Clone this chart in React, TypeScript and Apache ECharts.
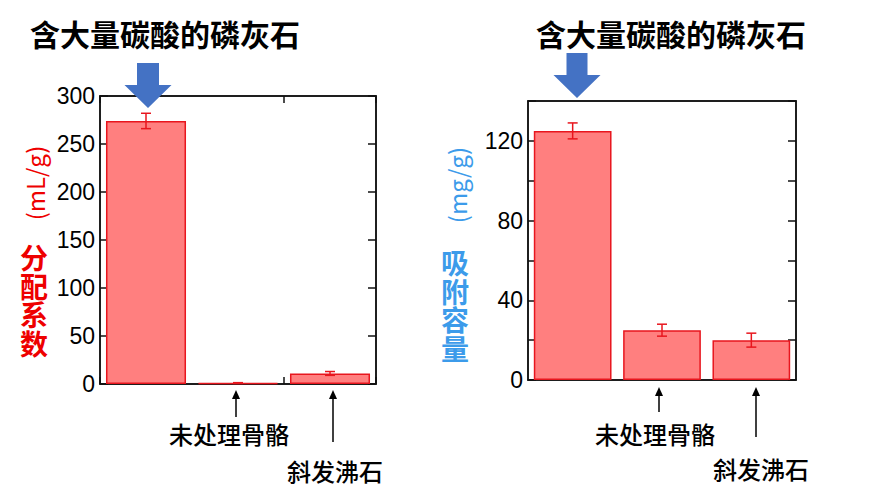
import React, { useEffect, useRef } from "react";
import * as echarts from "echarts";

const categories = ["含大量碳酸的磷灰石", "未处理骨骼", "斜发沸石"];
const partitionValues = [274, 1, 11];
const partitionErrors = [8, 0.4, 2];
const capacityValues = [125, 25, 20];
const capacityErrors = [4, 3, 3.5];
const partitionTicks = [0, 50, 100, 150, 200, 250, 300];
const capacityTicks = [0, 40, 80, 120];
const leftAxisName = ["分配系数", "(mL/g)"];
const rightAxisName = ["吸附容量", "(mg/g)"];

const NUM_FONT = '"Liberation Sans", Arial, sans-serif';
const CJK_FONT = '"Noto Sans CJK SC", "Noto Sans", sans-serif';
const BAR_FILL = "#FF7F7F";
const BAR_EDGE = "#E8161E";
const AXIS = "#111";

function errorSeries(values: number[], errs: number[], xi: number, yi: number) {
  return {
    type: "custom",
    xAxisIndex: xi,
    yAxisIndex: yi,
    z: 5,
    data: values.map((v, i) => [i, v - errs[i], v + errs[i]]),
    renderItem: (params: any, api: any) => {
      const x = api.value(0);
      const lo = api.coord([x, api.value(1)]);
      const hi = api.coord([x, api.value(2)]);
      const half = 5;
      const style = { stroke: BAR_EDGE, lineWidth: 1.5 };
      return {
        type: "group",
        children: [
          { type: "line", shape: { x1: hi[0], y1: hi[1], x2: lo[0], y2: lo[1] }, style },
          { type: "line", shape: { x1: hi[0] - half, y1: hi[1], x2: hi[0] + half, y2: hi[1] }, style },
          { type: "line", shape: { x1: lo[0] - half, y1: lo[1], x2: lo[0] + half, y2: lo[1] }, style },
        ],
      };
    },
  };
}

function blueArrow(cx: number, top: number, shaftW: number, headTopY: number, headW: number, tipY: number) {
  return {
    type: "polygon",
    shape: {
      points: [
        [cx - shaftW / 2, top],
        [cx + shaftW / 2, top],
        [cx + shaftW / 2, headTopY],
        [cx + headW / 2, headTopY],
        [cx, tipY],
        [cx - headW / 2, headTopY],
        [cx - shaftW / 2, headTopY],
      ],
    },
    style: { fill: "#4472C4" },
    z: 100,
  };
}

function blackArrow(x: number, tipY: number, bottomY: number) {
  return {
    type: "group",
    z: 100,
    children: [
      { type: "line", shape: { x1: x, y1: tipY + 6, x2: x, y2: bottomY }, style: { stroke: "#000", lineWidth: 1.5 } },
      {
        type: "polygon",
        shape: { points: [[x, tipY], [x - 4, tipY + 9], [x + 4, tipY + 9]] },
        style: { fill: "#000" },
      },
    ],
  };
}

function cjkText(text: string, x: number, y: number, size: number, color: string, weight: any = "normal", lineHeight?: number) {
  const style: any = {
    text,
    fill: color,
    font: `${weight} ${size}px ${CJK_FONT}`,
    align: "center",
    verticalAlign: "middle",
  };
  if (lineHeight) style.lineHeight = lineHeight;
  return { type: "text", x, y, z: 100, style };
}

function verticalText(text: string, cx: number, cy: number, size: number, step: number, color: string) {
  const chars = text.split("");
  const start = cy - ((chars.length - 1) * step) / 2;
  return chars.map((c, i) => cjkText(c, cx, start + i * step, size, color, "bold", size));
}

export default function App() {
  const ref = useRef<HTMLDivElement>(null);
  useEffect(() => {
    if (!ref.current) return;
    const chart = echarts.init(ref.current, undefined, { renderer: "svg" });

    const yLabel = { color: "#000", fontSize: 23, fontFamily: NUM_FONT, margin: 5 };
    const lineStyle = { color: AXIS, width: 1.5 };
    const xLine = { show: true, onZero: false, lineStyle };
    const gridBox = { show: true, borderColor: AXIS, borderWidth: 1.5, backgroundColor: "transparent" };

    const option: any = {
      animation: false,
      backgroundColor: "#fff",
      grid: [
        { left: 100, top: 96, width: 276, height: 288, ...gridBox },
        { left: 528, top: 101, width: 268, height: 279, ...gridBox },
      ],
      xAxis: [
        {
          type: "category", gridIndex: 0, position: "bottom", data: categories,
          axisLine: xLine, axisTick: { show: true, inside: true, length: 7, lineStyle },
          axisLabel: { show: false }, splitLine: { show: false },
        },
        {
          type: "category", gridIndex: 0, position: "top", data: categories,
          axisLine: xLine, axisTick: { show: true, inside: true, length: 7, lineStyle },
          axisLabel: { show: false }, splitLine: { show: false },
        },
        {
          type: "category", gridIndex: 1, position: "bottom", data: categories,
          axisLine: xLine, axisTick: { show: false },
          axisLabel: { show: false }, splitLine: { show: false },
        },
        {
          type: "category", gridIndex: 1, position: "top", data: categories,
          axisLine: xLine, axisTick: { show: false },
          axisLabel: { show: false }, splitLine: { show: false },
        },
      ],
      yAxis: [
        {
          type: "value", gridIndex: 0, position: "left",
          min: partitionTicks[0], max: partitionTicks[partitionTicks.length - 1], interval: 50,
          axisLine: { show: true, onZero: false, lineStyle }, axisTick: { show: true, inside: true, length: 8, lineStyle },
          axisLabel: yLabel, splitLine: { show: false },
        },
        {
          type: "value", gridIndex: 0, position: "right",
          min: partitionTicks[0], max: partitionTicks[partitionTicks.length - 1], interval: 50,
          axisLine: { show: true, onZero: false, lineStyle }, axisTick: { show: true, inside: true, length: 8, lineStyle },
          axisLabel: { show: false }, splitLine: { show: false },
        },
        {
          type: "value", gridIndex: 1, position: "left",
          min: 0, max: 140, interval: 20,
          axisLine: { show: true, onZero: false, lineStyle }, axisTick: { show: true, inside: true, length: 8, lineStyle },
          axisLabel: { ...yLabel, formatter: (v: number) => (capacityTicks.includes(v) ? String(v) : "") },
          splitLine: { show: false },
        },
        {
          type: "value", gridIndex: 1, position: "right",
          min: 0, max: 140, interval: 20,
          axisLine: { show: true, onZero: false, lineStyle }, axisTick: { show: true, inside: true, length: 8, lineStyle },
          axisLabel: { show: false }, splitLine: { show: false },
        },
      ],
      series: [
        {
          type: "bar", xAxisIndex: 0, yAxisIndex: 0, data: partitionValues, barWidth: "87%",
          itemStyle: { color: BAR_FILL, borderColor: BAR_EDGE, borderWidth: 1.5 },
        },
        errorSeries(partitionValues, partitionErrors, 1, 1),
        {
          type: "bar", xAxisIndex: 2, yAxisIndex: 2, data: capacityValues, barWidth: "87%",
          itemStyle: { color: BAR_FILL, borderColor: BAR_EDGE, borderWidth: 1.5 },
        },
        errorSeries(capacityValues, capacityErrors, 3, 3),
      ],
      graphic: [
        // titles
        cjkText(categories[0], 165, 33, 30, "#000", "bold"),
        cjkText(categories[0], 671, 33, 30, "#000", "bold"),
        // blue arrows
        blueArrow(148, 63, 22, 85, 47, 108),
        blueArrow(577, 53, 21, 75, 47, 98),
        // left axis names
        ...verticalText(leftAxisName[0], 34, 300, 28, 28.5, "#EE0000"),
        { ...cjkText(leftAxisName[1], 0, 0, 24, "#EE0000", "normal"), x: 34, y: 183, rotation: Math.PI / 2 },
        // right axis names
        ...verticalText(rightAxisName[0], 455, 305, 28, 28.5, "#3C9BEA"),
        { ...cjkText(rightAxisName[1], 0, 0, 24, "#3C9BEA", "normal"), x: 456, y: 185, rotation: Math.PI / 2 },
        // black arrows & category labels, left
        blackArrow(236, 390, 417),
        blackArrow(333, 390, 442),
        cjkText(categories[1], 229, 433, 24, "#000", 500),
        cjkText(categories[2], 335, 470, 24, "#000", 500),
        // right
        blackArrow(659, 387, 412),
        blackArrow(756, 387, 437),
        cjkText(categories[1], 655, 433, 24, "#000", 500),
        cjkText(categories[2], 761, 468, 24, "#000", 500),
      ],
    };
    chart.setOption(option);
    return () => chart.dispose();
  }, []);
  return (
    <div
      ref={ref}
      style={{ position: "fixed", left: 0, top: 0, width: 881, height: 493, background: "#fff" }}
    />
  );
}
